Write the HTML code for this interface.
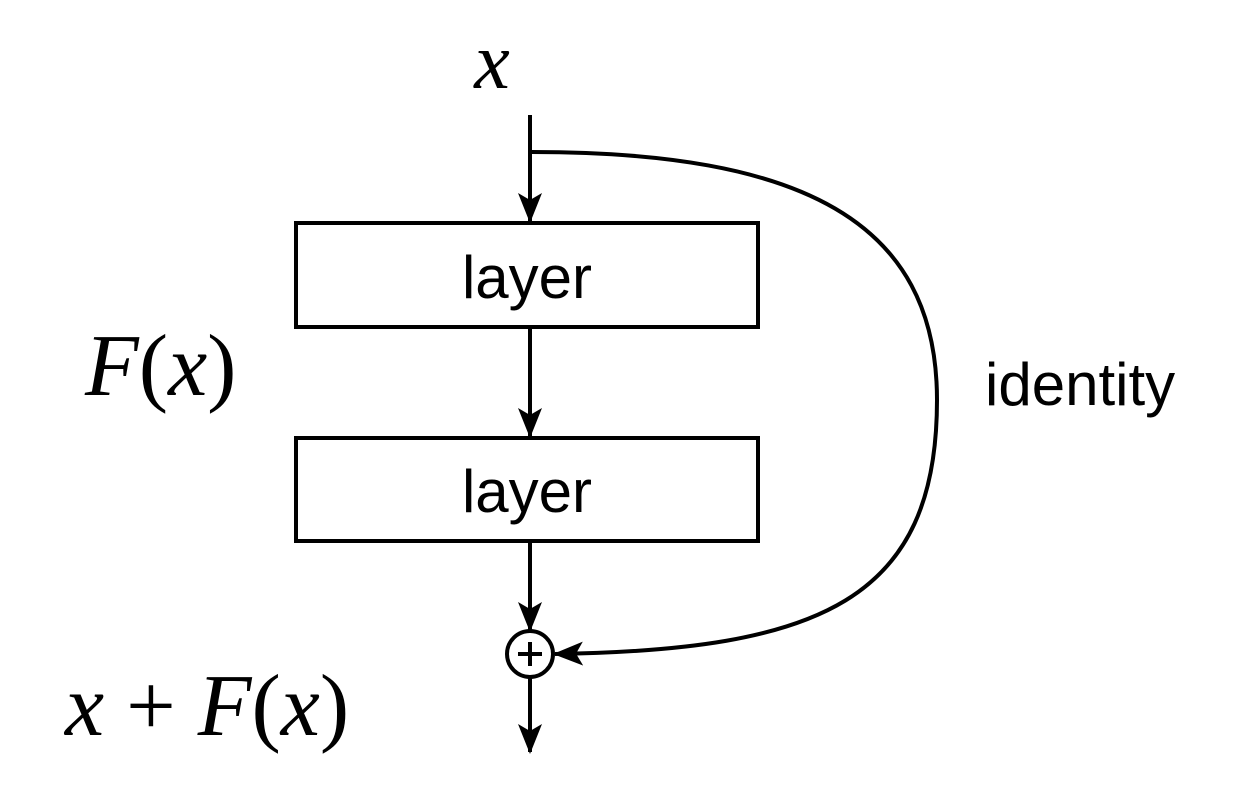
<!DOCTYPE html>
<html><head><style>body{margin:0;background:#fff}</style></head><body>
<svg width="1252" height="786" viewBox="0 0 1252 786" xmlns="http://www.w3.org/2000/svg">
<defs>
<marker id="a" viewBox="0 0 30 24" refX="28" refY="12" markerWidth="30" markerHeight="24" markerUnits="userSpaceOnUse" orient="auto">
<path d="M0,0 L30,12 L0,24 L7,12 Z" fill="#000"/>
</marker>
</defs>
<g stroke="#000" stroke-width="4" fill="none">
<line x1="530" y1="115" x2="530" y2="221" marker-end="url(#a)"/>
<rect x="296" y="223" width="462" height="104" fill="#fff"/>
<line x1="530" y1="327" x2="530" y2="436" marker-end="url(#a)"/>
<rect x="296" y="438" width="462" height="103" fill="#fff"/>
<line x1="530" y1="541" x2="530" y2="630" marker-end="url(#a)"/>
<circle cx="530" cy="654" r="23"/>
<line x1="530" y1="642" x2="530" y2="666"/>
<line x1="518" y1="654" x2="542" y2="654"/>
<line x1="530" y1="677" x2="530" y2="752" marker-end="url(#a)"/>
<path d="M532,152 C800,152 937,220 937,400 C937,600 820,650 555,654" marker-end="url(#a)"/>
</g>
<g font-family="Liberation Serif, serif" font-style="italic" fill="#000">
<text x="492" y="88" font-size="80" text-anchor="middle">x</text>
<text x="85" y="395" font-size="88">F<tspan font-style="normal">(</tspan>x<tspan font-style="normal">)</tspan></text>
<text x="65" y="735" font-size="88">x <tspan font-style="normal">+</tspan> F<tspan font-style="normal">(</tspan>x<tspan font-style="normal">)</tspan></text>
</g>
<g font-family="Liberation Sans, Arial, sans-serif" fill="#000" font-size="60">
<text x="527" y="298" text-anchor="middle">layer</text>
<text x="527" y="512" text-anchor="middle">layer</text>
<text x="985" y="405">identity</text>
</g>
</svg>
</body></html>
